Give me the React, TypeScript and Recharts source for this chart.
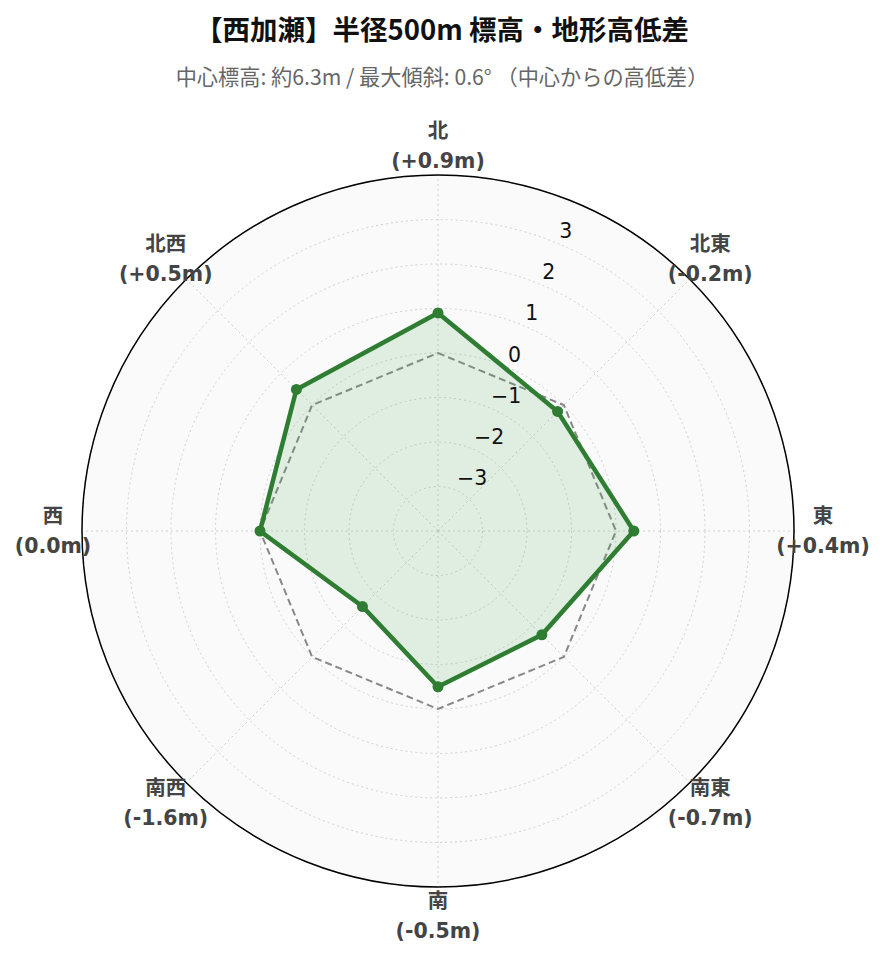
import { RadarChart, Radar, PolarGrid, PolarAngleAxis, PolarRadiusAxis } from "recharts";

// 方位ごとの中心からの高低差 (m)
const directions = ["北", "北東", "東", "南東", "南", "南西", "西", "北西"];
const elevationDiff = [0.9, -0.2, 0.4, -0.7, -0.5, -1.6, 0.0, 0.5];
const zeroReference = [0, 0, 0, 0, 0, 0, 0, 0];
const radiusDomain = [-4, 4];
const radiusTickLabels = [-3, -2, -1, 0, 1, 2, 3];

const title = "【西加瀬】半径500m 標高・地形高低差";
const subtitle = "中心標高: 約6.3m / 最大傾斜: 0.6° （中心からの高低差）";

const data = directions.map((dir, i) => ({
  dir,
  diff: elevationDiff[i],
  zero: zeroReference[i],
}));

const WIDTH = 884;
const HEIGHT = 962;
const CX = 438;
const CY = 531;
const OUTER = 356;
const LABEL_RADIUS = 385;
const GREEN = "#2e7d32";

const fmtDiff = (v: number) => `(${v > 0 ? "+" : ""}${v.toFixed(1)}m)`;
const fmtTick = (v: number) => (v < 0 ? `\u2212${Math.abs(v)}` : `${v}`);

function AngleTick(props: any) {
  const { x, y, payload } = props;
  const i = directions.indexOf(payload.value);
  const dx = x - CX;
  const dy = y - CY;
  const d = Math.hypot(dx, dy) || 1;
  const tx = CX + (dx / d) * LABEL_RADIUS;
  const ty = CY + (dy / d) * LABEL_RADIUS;
  const style = {
    fontFamily: "'DejaVu Sans', 'Noto Sans CJK JP', sans-serif",
    fontSize: 20.5,
    fontWeight: 700,
    fill: "#444",
  };
  return (
    <g>
      <text x={tx} y={ty - 15} textAnchor="middle" dominantBaseline="central" style={style}>
        {payload.value}
      </text>
      <text x={tx} y={ty + 15} textAnchor="middle" dominantBaseline="central" style={style}>
        {fmtDiff(elevationDiff[i])}
      </text>
    </g>
  );
}

function RadiusTick(props: any) {
  const { x, y, payload } = props;
  if (!radiusTickLabels.includes(payload.value)) return null;
  return (
    <text
      x={x + 2}
      y={y - 12}
      textAnchor="start"
      dominantBaseline="central"
      style={{ fontFamily: "'DejaVu Sans', sans-serif", fontSize: 20.5, fill: "#111" }}
    >
      {fmtTick(payload.value)}
    </text>
  );
}

function Dot(props: any) {
  const { cx, cy } = props;
  if (cx == null || cy == null) return null;
  return <circle cx={cx} cy={cy} r={5.5} fill={GREEN} />;
}

export default function App() {
  return (
    <div style={{ position: "relative", width: WIDTH, height: HEIGHT, background: "#fff" }}>
      <style>{`body{margin:0}`}</style>
      <div
        style={{
          position: "absolute", top: 9, left: 0, width: WIDTH, textAlign: "center",
          fontFamily: "'Noto Sans CJK JP', sans-serif", fontWeight: 700, fontSize: 27.5,
          color: "#111", lineHeight: "38px",
        }}
      >
        {title}
      </div>
      <div
        style={{
          position: "absolute", top: 61, left: 0, width: WIDTH, textAlign: "center",
          fontFamily: "'Noto Sans CJK JP', sans-serif", fontSize: 21.2,
          color: "#666", lineHeight: "30px",
        }}
      >
        {subtitle}
      </div>
      <RadarChart
        width={WIDTH}
        height={HEIGHT}
        cx={CX}
        cy={CY}
        outerRadius={OUTER}
        data={data}
        startAngle={90}
        endAngle={-270}
        margin={{ top: 0, right: 0, bottom: 0, left: 0 }}
      >
        <PolarGrid
          gridType="circle"
          polarRadius={[OUTER]}
          radialLines={false}
          stroke="none"
          fill="#fafafa"
        />
        <PolarGrid gridType="circle" stroke="#d0d0d0" strokeDasharray="2 3" />
        <PolarAngleAxis
          dataKey="dir"
          axisLineType="circle"
          axisLine={{ stroke: "#000", strokeWidth: 1.5 }}
          tickLine={false}
          tick={<AngleTick />}
        />
        <PolarRadiusAxis
          angle={67.5}
          type="number"
          domain={radiusDomain}
          tickCount={9}
          axisLine={false}
          tickLine={false}
          tick={<RadiusTick />}
        />
        <Radar
          dataKey="zero"
          stroke="#888"
          strokeWidth={2}
          strokeDasharray="7 4"
          fill="none"
          dot={false}
          isAnimationActive={false}
        />
        <Radar
          dataKey="diff"
          stroke={GREEN}
          strokeWidth={4.5}
          fill="#4caf50"
          fillOpacity={0.15}
          dot={<Dot />}
          isAnimationActive={false}
        />
      </RadarChart>
    </div>
  );
}
